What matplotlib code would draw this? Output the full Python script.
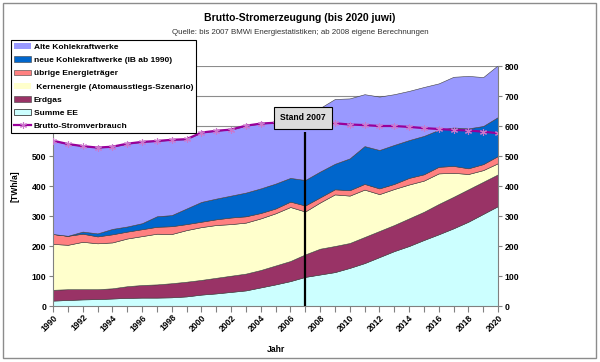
import matplotlib
matplotlib.use("Agg")
import matplotlib.pyplot as plt
from matplotlib.patches import Patch, Rectangle
from matplotlib.lines import Line2D
import numpy as np

plt.rcParams['font.family'] = ['Liberation Sans', 'DejaVu Sans']

years = list(range(1990, 2021))

summe_ee = [18, 20, 22, 23, 25, 27, 28, 28, 29, 32, 38, 42, 47, 52, 62, 72, 83, 97,
            105, 113, 127, 143, 163, 183, 200, 220, 239, 259, 281, 307, 333]
erdgas = [36, 36, 34, 33, 34, 39, 42, 44, 47, 49, 49, 52, 54, 56, 58, 63, 67, 75,
          86, 87, 83, 87, 87, 87, 92, 94, 101, 105, 108, 107, 106]
kernenergie = [153, 148, 158, 153, 153, 159, 163, 169, 164, 172, 176, 176, 172, 170, 172, 174, 180, 143,
               154, 172, 158, 158, 123, 120, 113, 104, 102, 80, 51, 39, 37]
uebrige = [33, 30, 27, 23, 27, 23, 23, 23, 26, 20, 18, 19, 22, 21, 18, 16, 18, 20,
           17, 17, 18, 19, 19, 17, 22, 21, 22, 23, 19, 20, 24]
neue_kohle = [0, 0, 7, 10, 18, 17, 20, 35, 37, 52, 66, 69, 73, 79, 82, 83, 79, 85,
              86, 85, 106, 126, 128, 130, 126, 128, 123, 128, 133, 127, 130]
alte_kohle = [311, 306, 285, 286, 274, 276, 271, 251, 251, 231, 231, 226, 220, 223, 216, 203, 187, 200,
              212, 216, 200, 173, 178, 169, 164, 163, 155, 169, 175, 163, 173]
verbrauch = [551, 540, 533, 528, 531, 541, 547, 550, 554, 556, 578, 584, 588, 601, 608, 611, 614, 614,
             612, 609, 605, 603, 600, 600, 597, 593, 590, 587, 585, 581, 576]

labels = ["Alte Kohlekraftwerke", "neue Kohlekraftwerke (IB ab 1990)", "übrige Energieträger",
          " Kernenergie (Atomausstiegs-Szenario)", "Erdgas", "Summe EE", "Brutto-Stromverbrauch"]
colors = {"alte": "#9999FF", "neue": "#0066CC", "uebr": "#FF8080", "kern": "#FFFFCC",
          "gas": "#993366", "ee": "#CCFFFF"}
line_color = "#990099"
marker_color = "#CC77CC"

W, H = 600, 362
fig = plt.figure(figsize=(W / 100, H / 100), dpi=100)
fig.patch.set_facecolor("white")
fig.patches.append(Rectangle((3 / W, 4 / H), 593 / W, 355 / H, transform=fig.transFigure,
                             fill=False, edgecolor="#8c8c8c", linewidth=1.0))

left, right, top, bottom = 53, 498, 66, 306
ax = fig.add_axes([left / W, 1 - bottom / H, (right - left) / W, (bottom - top) / H])

stack = ax.stackplot(years, summe_ee, erdgas, kernenergie, uebrige, neue_kohle, alte_kohle,
                     colors=[colors["ee"], colors["gas"], colors["kern"], colors["uebr"],
                             colors["neue"], colors["alte"]],
                     edgecolor="#404040", linewidth=0.4, zorder=2)
ax.plot(years, verbrauch, color=line_color, linewidth=1.6, zorder=4,
        marker=(6, 2, 0), markersize=5, markeredgecolor=marker_color, markeredgewidth=0.8)

ax.set_xlim(1990, 2020)
ax.set_ylim(0, 800)
ax.set_yticks(range(0, 801, 100))
ax.set_xticks(range(1990, 2021, 2))
ax.set_xticks(range(1990, 2021, 1), minor=True)
ax.grid(axis="y", color="#8c8c8c", linewidth=0.8, zorder=0)
ax.set_axisbelow(True)
ax.spines["top"].set_visible(False)
for s in ["left", "right", "bottom"]:
    ax.spines[s].set_color("#808080")
    ax.spines[s].set_linewidth(0.8)
ax.spines["right"].set_zorder(5)

ax.tick_params(axis="y", which="both", left=True, right=True, labelleft=True, labelright=True,
               direction="out", length=3, width=0.8, color="#808080", labelsize=6.2, pad=2)
ax.tick_params(axis="x", which="both", direction="out", length=4, width=0.8, color="#808080",
               labelsize=6.2, pad=1)
for lab in ax.get_yticklabels():
    lab.set_fontweight("bold")
# left labels above 500 are hidden behind the legend in the original
for tick in ax.yaxis.get_major_ticks()[6:]:
    tick.label1.set_visible(False)
ax.set_xticklabels([str(y) for y in range(1990, 2021, 2)], rotation=45, ha="right",
                   va="top", rotation_mode="anchor", fontweight="bold")

ax.set_xlabel("Jahr", fontsize=6.2, fontweight="bold", labelpad=6)
ax.xaxis.set_label_coords((276 - left) / (right - left), -(345 - bottom) / (bottom - top))
ax.set_ylabel("[TWh/a]", fontsize=6.2, fontweight="bold")
ax.yaxis.set_label_coords(-(left - 20) / (right - left), (bottom - 186) / (bottom - top))

# Stand 2007 marker
ax.vlines(2007, 0, 580, color="black", linewidth=1.6, zorder=6)
ax.text(2006.85, 627, "Stand 2007", fontsize=6.2, fontweight="bold", ha="center", va="center",
        zorder=7, bbox=dict(boxstyle="square,pad=0.75", facecolor="#DCDCDC", edgecolor="black",
                            linewidth=0.8))

# Titles
fig.text(300 / W, 1 - 18 / H, "Brutto-Stromerzeugung (bis 2020 juwi)", ha="center", va="center",
         fontsize=7.5, fontweight="bold")
fig.text(300 / W, 1 - 33 / H, "Quelle: bis 2007 BMWi Energiestatistiken; ab 2008 eigene Berechnungen",
         ha="center", va="center", fontsize=5.7, color="#333333")

handles = [Patch(facecolor=colors["alte"], edgecolor="none"),
           Patch(facecolor=colors["neue"], edgecolor="#404040", linewidth=0.4),
           Patch(facecolor=colors["uebr"], edgecolor="#404040", linewidth=0.4),
           Patch(facecolor=colors["kern"], edgecolor="none"),
           Patch(facecolor=colors["gas"], edgecolor="#404040", linewidth=0.4),
           Patch(facecolor=colors["ee"], edgecolor="#404040", linewidth=0.6),
           Line2D([0], [0], color=line_color, linewidth=1.6, marker=(6, 2, 0), markersize=5,
                  markeredgecolor=marker_color, markeredgewidth=0.8)]
leg = ax.legend(handles, labels, loc="upper left", bbox_to_anchor=(11 / W, 1 - 40 / H),
                bbox_transform=fig.transFigure, borderaxespad=0, frameon=True, fancybox=False,
                framealpha=1, edgecolor="black", prop=dict(size=6.0, weight="bold"),
                handlelength=2.0, handleheight=0.7, handletextpad=0.3, labelspacing=0.64,
                borderpad=0.4)
leg.get_frame().set_linewidth(0.8)
leg.set_zorder(10)

fig.savefig("out.png", dpi=100)
